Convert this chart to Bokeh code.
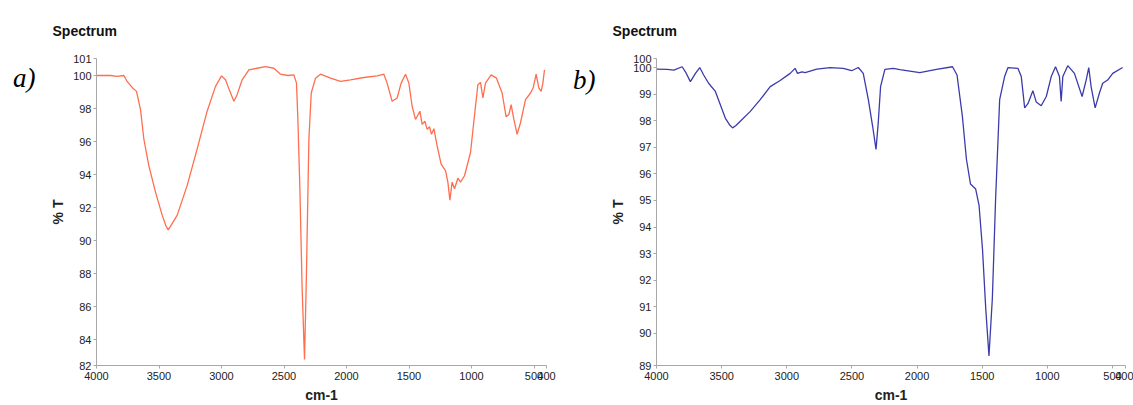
from bokeh.plotting import figure
from bokeh.models import Range1d, FixedTicker, Title, LinearAxis
from bokeh.layouts import row
from bokeh.embed import file_html
from bokeh.resources import INLINE

# ---------------- data ----------------
wn_a = [4000, 3888, 3835, 3781, 3755, 3715, 3680, 3648, 3621, 3581, 3528, 3474, 3445, 3427, 3410, 3355, 3275, 3195,
        3115, 3048, 3000, 2968, 2933, 2901, 2875, 2835, 2781, 2715, 2648, 2581, 2528, 2470, 2421, 2400,
        2389, 2373, 2355, 2336, 2320, 2301, 2282, 2248, 2208, 2128, 2048, 1968, 1861, 1755, 1701, 1675,
        1635, 1595, 1563, 1528, 1501, 1475, 1448, 1413, 1395, 1373, 1355, 1336, 1320, 1301, 1275, 1243,
        1208, 1189, 1173, 1155, 1136, 1109, 1088, 1056, 1008, 968, 949, 928, 909, 888, 843, 800, 755,
        723, 701, 683, 661, 635, 608, 568, 528, 507, 483, 461, 443, 429, 416]
t_a = [100.0, 100.0, 99.95, 100.0, 99.64, 99.28, 99.04, 97.94, 96.14, 94.53, 92.94, 91.53, 90.9, 90.65, 90.85, 91.53, 93.33, 95.54,
       97.84, 99.34, 99.98, 99.74, 99.04, 98.44, 98.84, 99.74, 100.34, 100.44, 100.54, 100.44, 100.08, 100.0, 100.04, 99.54,
       97.34, 93.14, 87.13, 82.8, 88.13, 96.14, 98.94, 99.84, 100.08, 99.84, 99.64, 99.74, 99.88, 99.98, 100.08, 99.54,
       98.44, 98.64, 99.54, 100.08, 99.54, 98.14, 97.34, 97.84, 97.04, 97.24, 96.74, 96.9, 96.44, 96.78, 95.74, 94.64,
       94.24, 93.54, 92.45, 93.54, 93.14, 93.78, 93.54, 93.93, 95.34, 98.14, 99.44, 99.58, 98.64, 99.54, 100.04, 99.84, 98.94,
       97.5, 97.64, 98.24, 97.34, 96.44, 97.14, 98.54, 98.94, 99.24, 100.08, 99.24, 99.04, 99.54, 100.34]

wn_b = [4000, 3918, 3867, 3803, 3778, 3740, 3701, 3668, 3638, 3600, 3548, 3510, 3472, 3440, 3416, 3390, 3357, 3280,
        3204, 3127, 3051, 2974, 2936, 2918, 2884, 2859, 2770, 2668, 2566, 2502, 2451, 2413, 2374, 2341,
        2315, 2298, 2280, 2247, 2183, 2132, 1979, 1851, 1728, 1693, 1685, 1652, 1621, 1590, 1550, 1524,
        1498, 1473, 1448, 1422, 1397, 1366, 1328, 1302, 1226, 1200, 1174, 1149, 1111, 1085, 1047, 1008,
        970, 937, 907, 894, 881, 843, 792, 733, 702, 682, 664, 633, 600, 575, 537, 498, 422]
t_b = [99.94, 99.93, 99.9, 100.03, 99.84, 99.47, 99.78, 100.0, 99.72, 99.41, 99.1, 98.6, 98.1, 97.85, 97.73, 97.82, 97.98, 98.35,
       98.79, 99.28, 99.51, 99.78, 99.97, 99.78, 99.84, 99.81, 99.94, 100.0, 99.97, 99.88, 100.0, 99.78, 98.79, 97.79,
       96.92, 97.92, 99.28, 99.93, 99.97, 99.92, 99.81, 99.93, 100.03, 99.72, 99.41, 98.16, 96.55, 95.62, 95.43, 94.81,
       93.19, 90.95, 89.15, 91.32, 95.06, 98.79, 99.66, 100.0, 99.97, 99.66, 98.48, 98.64, 99.13, 98.7, 98.56, 98.91,
       99.66, 100.03, 99.66, 98.72, 99.66, 100.07, 99.78, 98.91, 99.53, 100.0, 99.28, 98.48, 99.04, 99.41, 99.53, 99.78, 100.0]

x_ticks = [4000, 3500, 3000, 2500, 2000, 1500, 1000, 500, 400]
y_ticks_a = [82.44, 84, 86, 88, 90, 92, 94, 96, 98, 100, 101]
y_labels_a = {82.44: "82"}
y_ticks_b = [88.79, 90, 91, 92, 93, 94, 95, 96, 97, 98, 99, 100, 100.34]
y_labels_b = {88.79: "89", 100.34: "100"}

FONT = "Liberation Sans"


def panel(wn, t, color, yr, yticks, ylabels, letter, letter_y, width, left_border, right_border):
    p = figure(width=width, height=405, output_backend="svg", toolbar_location=None,
               x_range=Range1d(4000, 400), y_range=Range1d(yr[0], yr[1]),
               min_border_left=left_border, min_border_right=right_border,
               min_border_top=58, min_border_bottom=37)
    p.outline_line_color = None
    p.grid.visible = False
    p.line(wn, t, line_color=color, line_width=1.3)

    p.xaxis.ticker = FixedTicker(ticks=x_ticks)
    p.yaxis.ticker = FixedTicker(ticks=yticks)
    p.yaxis.major_label_overrides = ylabels
    for ax in (p.xaxis[0], p.yaxis[0]):
        ax.axis_line_color = "#a8a8a8"
        ax.major_tick_line_color = "#a8a8a8"
        ax.minor_tick_line_color = None
        ax.major_tick_out = 3
        ax.major_tick_in = 0
        ax.major_label_text_font = FONT
        ax.major_label_text_font_size = "11px"
        ax.major_label_text_color = "#222222"
        ax.axis_label_text_font = FONT
        ax.axis_label_text_font_style = "bold"
        ax.axis_label_text_color = "#222222"
        ax.axis_label_text_font_size = "14px"
    p.xaxis.major_label_standoff = 3
    p.xaxis.axis_label_standoff = 4
    p.yaxis.major_label_standoff = 2
    p.yaxis.axis_label_standoff = 4
    p.xaxis.axis_label = "cm-1"
    p.yaxis.axis_label = "% T"

    p.add_layout(Title(text="Spectrum", align="left", offset=-44, standoff=40,
                       text_font=FONT, text_font_style="bold", text_font_size="14px",
                       text_color="#111111"), "above")

    # panel letter, drawn as the single label of an outer, line-less axis
    letter_axis = LinearAxis(ticker=FixedTicker(ticks=[letter_y]),
                             major_label_overrides={letter_y: letter},
                             axis_line_color=None, major_tick_line_color=None,
                             minor_tick_line_color=None, major_tick_out=0, major_tick_in=0,
                             major_label_standoff=12,
                             major_label_text_font="Liberation Serif",
                             major_label_text_font_style="italic",
                             major_label_text_font_size="27px",
                             major_label_text_color="#000000")
    p.add_layout(letter_axis, "left")
    return p


p1 = panel(wn_a, t_a, "#ff6e4e", (82.44, 101.03), y_ticks_a, y_labels_a, "a)", 99.86, 568, 96, 22)
p2 = panel(wn_b, t_b, "#3b3bab", (88.79, 100.34), y_ticks_b, y_labels_b, "b)", 99.53, 565, 88, 8)

layout = row(p1, p2)
open("out.html", "w").write(file_html(layout, INLINE))
